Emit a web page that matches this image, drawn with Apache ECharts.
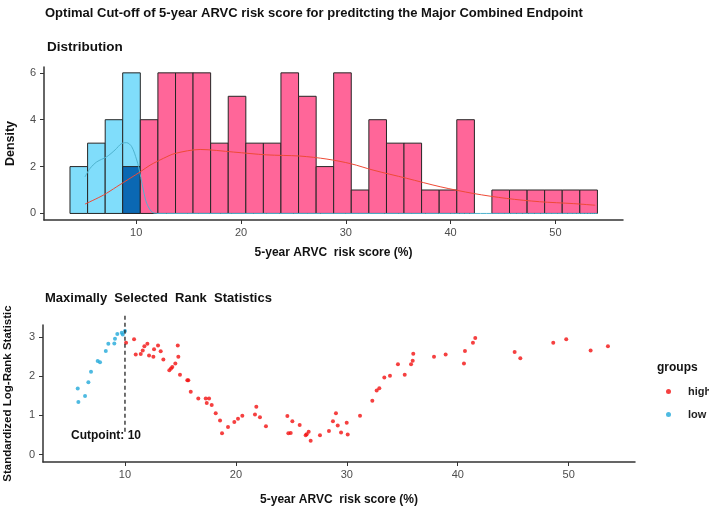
<!DOCTYPE html>
<html>
<head>
<meta charset="utf-8">
<script src="https://cdn.jsdelivr.net/npm/echarts@6/dist/echarts.min.js"></script>
<style>
  html, body { margin: 0; padding: 0; background: #fff; }
  #chart { width: 709px; height: 508px; }
</style>
</head>
<body>
<div id="chart"></div>
<script>
// histogram bins (left edges) and counts per group
var binWidth = 1.68;
var binLeft = [3.68, 5.36, 7.04, 8.71, 10.39, 12.07, 13.75, 15.42, 17.10, 18.78,
               20.46, 22.13, 23.81, 25.49, 27.17, 28.84, 30.52, 32.20, 33.88, 35.55,
               37.23, 38.91, 40.59, 42.26, 43.94, 45.62, 47.30, 48.97, 50.65, 52.33];
var lowCounts  = [2, 3, 4, 6, 0, 0, 0, 0, 0, 0, 0, 0, 0, 0, 0, 0, 0, 0, 0, 0, 0, 0, 0, 0, 0, 0, 0, 0, 0, 0];
var highCounts = [0, 0, 0, 2, 4, 6, 6, 6, 3, 5, 3, 3, 6, 5, 2, 6, 1, 4, 3, 3, 1, 1, 4, 0, 1, 1, 1, 1, 1, 1];

// density curves
var lowDensX  = [5.11, 5.59, 6.23, 7.19, 7.98, 8.62, 9.09, 9.57, 10.05, 10.36, 10.68, 11.0, 11.48, 11.96, 20, 30, 40, 54];
var lowDensY  = [1.56, 1.92, 2.2, 2.42, 2.71, 2.99, 3.02, 2.85, 2.28, 1.71, 1.0, 0.43, 0.07, 0, 0, 0, 0, 0];
var highDensX = [5.11, 6.86, 8.14, 9.41, 10.4, 11.32, 12.59, 13.7, 16.1, 19.27, 22.45, 25.6, 28.2, 30.5, 32.6, 35.8, 39.0, 42.2, 45.35, 48.5, 51.7, 53.8];
var highDensY = [0.4, 0.78, 1.14, 1.5, 1.78, 2.06, 2.35, 2.56, 2.73, 2.62, 2.5, 2.45, 2.32, 2.12, 1.85, 1.5, 1.14, 0.85, 0.64, 0.5, 0.42, 0.35];

// maximally selected rank statistics
var lowScore = [5.74, 5.80, 6.40, 6.70, 6.94, 7.54, 7.75, 8.27, 8.50, 9.04, 9.10, 9.31, 9.71, 9.80, 10.0];
var lowStat  = [1.68, 1.34, 1.49, 1.84, 2.11, 2.38, 2.35, 2.64, 2.82, 2.83, 2.95, 3.07, 3.10, 3.06, 3.15];
var highScore = [10.10, 10.82, 10.97, 11.42, 11.60, 11.75, 12.02, 12.17, 12.56, 12.62, 12.98, 13.22, 13.46,
                 14.00, 14.15, 14.27, 14.54, 14.76, 14.81, 14.96, 15.62, 15.71, 15.93, 16.61, 17.28, 17.58,
                 17.37, 17.82, 18.18, 18.57, 18.75, 19.29, 19.86, 20.19, 20.58, 21.72, 21.84, 22.17, 22.71,
                 24.64, 25.09, 24.73, 24.94, 25.75, 26.29, 26.38, 26.56, 26.74, 27.58, 28.39, 28.75, 29.02,
                 29.18, 29.48, 29.99, 30.08, 31.19, 32.30, 32.69, 32.93, 33.38, 33.89, 34.61, 35.22, 35.79,
                 35.94, 35.99, 37.86, 38.91, 40.65, 40.56, 41.37, 41.58, 45.13, 45.64, 48.61, 49.78, 51.98, 53.54];
var highStat  = [2.85, 2.94, 2.55, 2.56, 2.65, 2.76, 2.82, 2.52, 2.49, 2.68, 2.78, 2.63, 2.42,
                 2.15, 2.19, 2.23, 2.32, 2.78, 2.49, 2.03, 1.89, 1.89, 1.60, 1.43, 1.43, 1.43,
                 1.31, 1.26, 1.05, 0.87, 0.54, 0.70, 0.83, 0.91, 0.99, 1.02, 1.22, 0.95, 0.72,
                 0.98, 0.85, 0.54, 0.55, 0.75, 0.49, 0.52, 0.58, 0.35, 0.49, 0.60, 0.85, 1.05,
                 0.74, 0.56, 0.81, 0.51, 0.99, 1.37, 1.63, 1.69, 1.96, 2.01, 2.30, 2.03, 2.30,
                 2.39, 2.57, 2.49, 2.55, 2.64, 2.32, 2.85, 2.97, 2.61, 2.45, 2.85, 2.94, 2.65, 2.76];
var cutpoint = 10;
var xTicks = [10, 20, 30, 40, 50];

var font = '"Liberation Sans", Arial, sans-serif';

function zip(a, b) { return a.map(function (v, i) { return [v, b[i]]; }); }

function barRender(params, api) {
    var p0 = api.coord([api.value(0), 0]);
    var p1 = api.coord([api.value(1), api.value(2)]);
    return {
        type: 'rect',
        shape: { x: p0[0], y: p1[1], width: p1[0] - p0[0], height: p0[1] - p1[1] },
        style: { fill: api.value(3) === 1 ? '#0b68b3' : api.value(3) === 2 ? '#80ddfb' : '#ff6699',
                 stroke: '#262626', lineWidth: 1 }
    };
}

var lowBars = [], highBars = [];
binLeft.forEach(function (x, i) {
    if (lowCounts[i] > 0) lowBars.push([x, x + binWidth, lowCounts[i], 2]);
    if (highCounts[i] > 0) highBars.push([x, x + binWidth, highCounts[i], lowCounts[i] > 0 ? 1 : 0]);
});

function axisX(idx, min, max, name, gap) {
    return {
        type: 'value', gridIndex: idx, min: min, max: max,
        name: name, nameLocation: 'middle', nameGap: gap,
        nameTextStyle: { fontFamily: font, fontWeight: 'bold', fontSize: 12, color: '#111' },
        axisLine: { onZero: false, lineStyle: { color: '#333', width: 1.5 } },
        axisTick: { length: 4, customValues: xTicks, lineStyle: { color: '#333' } },
        axisLabel: { customValues: xTicks, color: '#4d4d4d', fontSize: 11, fontFamily: font, margin: 7 },
        splitLine: { show: false }
    };
}
function axisY(idx, min, max, ticks, name, gap, size) {
    return {
        type: 'value', gridIndex: idx, min: min, max: max,
        name: name, nameLocation: 'middle', nameGap: gap, nameRotate: 90,
        nameTextStyle: { fontFamily: font, fontWeight: 'bold', fontSize: size, color: '#111' },
        axisLine: { show: true, onZero: false, lineStyle: { color: '#333', width: 1.5 } },
        axisTick: { show: true, length: 4, customValues: ticks, lineStyle: { color: '#333' } },
        axisLabel: { customValues: ticks, color: '#4d4d4d', fontSize: 11, fontFamily: font, margin: 8 },
        splitLine: { show: false }
    };
}

var chart = echarts.init(document.getElementById('chart'));
chart.setOption({
    animation: false,
    backgroundColor: '#fff',
    title: [
        { text: 'Optimal Cut-off of 5-year ARVC risk score for preditcting the Major Combined Endpoint',
          left: 40, top: 2, textStyle: { fontFamily: font, fontWeight: 'bold', fontSize: 13, color: '#111' } },
        { text: 'Distribution', left: 42, top: 35,
          textStyle: { fontFamily: font, fontWeight: 'bold', fontSize: 13.5, color: '#111' } },
        { text: 'Maximally  Selected  Rank  Statistics', left: 40, top: 287,
          textStyle: { fontFamily: font, fontWeight: 'bold', fontSize: 13, color: '#111' } }
    ],
    grid: [
        { left: 44, right: 86, top: 67, bottom: 288, outerBoundsMode: 'none' },
        { left: 43, right: 74, top: 325, bottom: 46, outerBoundsMode: 'none' }
    ],
    xAxis: [
        axisX(0, 1.2, 56.45, '5-year ARVC  risk score (%)', 27),
        axisX(1, 2.61, 55.98, '5-year ARVC  risk score (%)', 32)
    ],
    yAxis: [
        axisY(0, -0.28, 6.25, [0, 2, 4, 6], 'Density', 27, 12.5),
        axisY(1, -0.19, 3.30, [0, 1, 2, 3], 'Standardized Log-Rank Statistic', 29, 11.5)
    ],
    legend: {
        data: ['high', 'low'], orient: 'vertical', left: 666, top: 386,
        icon: 'circle', itemWidth: 5, itemHeight: 5, itemGap: 12, padding: 0,
        textStyle: { fontFamily: font, fontWeight: 'bold', fontSize: 11, color: '#222', padding: [0, 0, 0, 12] }
    },
    graphic: [
        { type: 'text', left: 657, top: 362,
          style: { text: 'groups', font: 'bold 12px ' + font, fill: '#111' } },
        { type: 'text', left: 71, top: 430,
          style: { text: 'Cutpoint: 10', font: 'bold 12px ' + font, fill: '#111' } }
    ],
    series: [
        { type: 'custom', name: 'lowBars', xAxisIndex: 0, yAxisIndex: 0, data: lowBars, renderItem: barRender },
        { type: 'custom', name: 'highBars', xAxisIndex: 0, yAxisIndex: 0, data: highBars, renderItem: barRender },
        { type: 'line', name: 'lowDens', xAxisIndex: 0, yAxisIndex: 0, data: zip(lowDensX, lowDensY),
          smooth: 0.3, symbol: 'none', lineStyle: { color: '#4fb3cf', width: 1 }, z: 5 },
        { type: 'line', name: 'highDens', xAxisIndex: 0, yAxisIndex: 0, data: zip(highDensX, highDensY),
          smooth: 0.3, symbol: 'none', lineStyle: { color: '#ef4a36', width: 1 }, z: 5 },
        { type: 'line', name: 'cut', xAxisIndex: 1, yAxisIndex: 1, data: [[cutpoint, 0.58], [cutpoint, 3.6]],
          clip: false, symbol: 'none', lineStyle: { color: '#111', width: 1.2, type: [4, 3] } },
        { type: 'scatter', name: 'high', xAxisIndex: 1, yAxisIndex: 1, data: zip(highScore, highStat),
          symbolSize: 4, itemStyle: { color: '#f21010' } },
        { type: 'scatter', name: 'low', xAxisIndex: 1, yAxisIndex: 1, data: zip(lowScore, lowStat),
          symbolSize: 4, itemStyle: { color: '#22a9d9' } }
    ]
});
</script>
</body>
</html>
